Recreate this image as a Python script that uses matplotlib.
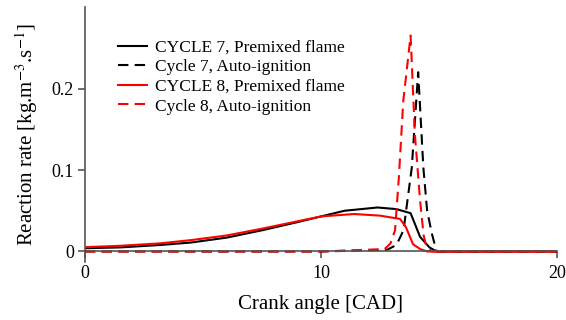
import matplotlib
matplotlib.use("Agg")
import matplotlib.pyplot as plt
import numpy as np

# ----------------------------------------------------------------------------------------------------------------------
#  DATA  (crank angle [CAD], reaction rate [kg.m-3.s-1])
# ----------------------------------------------------------------------------------------------------------------------
c7_pf_cad  = [0.0, 1.5, 3.2, 4.5, 6.0, 7.5, 9.0, 10.0, 11.0, 12.4, 13.2, 13.8, 14.2, 14.6, 14.9, 20.0]
c7_pf_rate = [0.004, 0.005, 0.008, 0.011, 0.017, 0.026, 0.036, 0.043, 0.050, 0.054, 0.052, 0.047, 0.018, 0.005, 0.0, 0.0]

c7_ai_cad  = [0.0, 10.0, 12.8, 13.2, 13.5, 13.85, 14.12, 14.34, 14.5, 14.7, 14.9, 20.0]
c7_ai_rate = [0.0, 0.0, 0.002, 0.008, 0.026, 0.103, 0.220, 0.103, 0.050, 0.022, 0.0, 0.0]

c8_pf_cad  = [0.0, 1.5, 3.2, 4.5, 6.0, 7.5, 9.0, 10.0, 11.4, 12.5, 13.35, 13.6, 13.9, 14.2, 14.5, 20.0]
c8_pf_rate = [0.0053, 0.007, 0.010, 0.014, 0.0196, 0.028, 0.037, 0.043, 0.046, 0.044, 0.040, 0.030, 0.009, 0.003, 0.0, 0.0]

c8_ai_cad  = [0.0, 10.0, 12.7, 12.95, 13.14, 13.3, 13.49, 13.8, 13.98, 14.2, 14.35, 14.48, 14.7, 20.0]
c8_ai_rate = [0.0, 0.0, 0.003, 0.010, 0.026, 0.090, 0.185, 0.265, 0.144, 0.063, 0.020, 0.005, 0.0, 0.0]

x_ticks = [0, 10, 20]
y_ticks = [0, 0.1, 0.2]

# ----------------------------------------------------------------------------------------------------------------------
#  PLOT
# ----------------------------------------------------------------------------------------------------------------------
plt.rcParams['font.family'] = ['Liberation Serif', 'DejaVu Serif']
plt.rcParams['mathtext.fontset'] = 'stix'

fig = plt.figure(figsize=(5.66, 3.2), dpi=100)
ax  = fig.add_axes([0.150, 0.181, 0.834, 0.797])

lw     = 1.5
dashes = (5, 3)
ax.plot(c7_pf_cad, c7_pf_rate, color='black', linewidth=lw, label='CYCLE 7, Premixed flame')
ax.plot(c7_ai_cad, c7_ai_rate, color='black', linewidth=lw, dashes=dashes, label='Cycle 7, Auto-ignition')
ax.plot(c8_pf_cad, c8_pf_rate, color='#ff0000', linewidth=lw, label='CYCLE 8, Premixed flame')
ax.plot(c8_ai_cad, c8_ai_rate, color='#ff0000', linewidth=lw, dashes=dashes, label='Cycle 8, Auto-ignition')

ax.set_xlim(0, 20)
ax.set_ylim(-0.013, 0.3)
ax.set_xticks(x_ticks)
ax.set_xticklabels(['0', '10', '20'])
ax.set_yticks(y_ticks)
ax.set_yticklabels(['0', '0.1', '0.2'])

spine_color = '#555555'
for side in ['top', 'right']:
    ax.spines[side].set_visible(False)
ax.spines['bottom'].set_position(('data', 0))
ax.spines['bottom'].set_color(spine_color)
ax.spines['left'].set_color(spine_color)
ax.spines['bottom'].set_linewidth(1.2)
ax.spines['left'].set_linewidth(1.2)
ax.tick_params(axis='both', direction='out', length=5, width=1.2, color=spine_color,
               labelsize=13, pad=3)
ax.tick_params(axis='x', pad=5)

ax.set_xlabel('Crank angle [CAD]', fontsize=15, labelpad=9)
ax.set_ylabel(r'Reaction rate [kg.m$^{-3}$.s$^{-1}$]', fontsize=15, labelpad=8)

leg = ax.legend(loc='upper left', bbox_to_anchor=(0.055, 0.90), frameon=False, fontsize=12.5,
                handlelength=1.7, handletextpad=0.45, labelspacing=0.2, borderaxespad=0)

fig.savefig('out.png', dpi=100)
